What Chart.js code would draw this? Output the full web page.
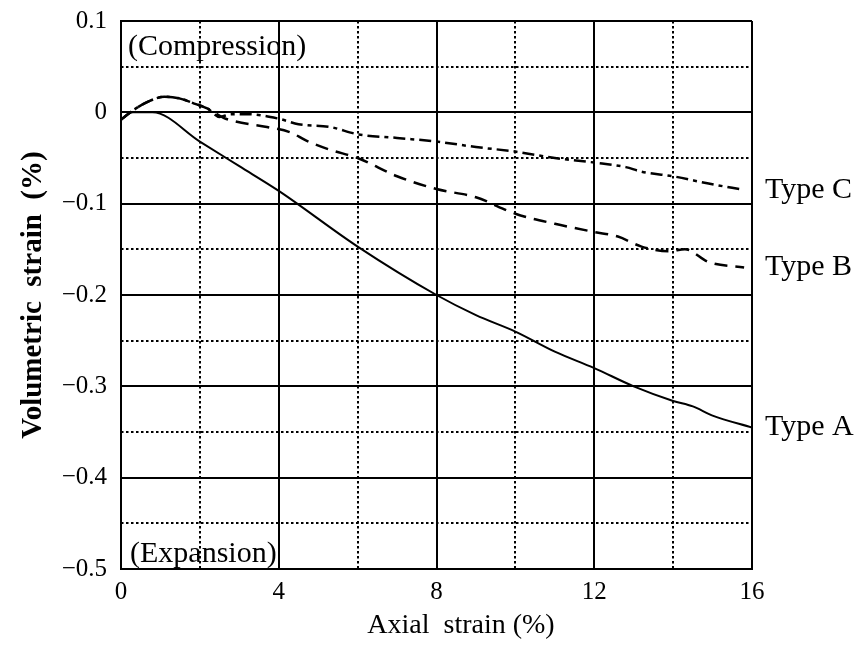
<!DOCTYPE html>
<html>
<head>
<meta charset="utf-8">
<script src="https://cdn.jsdelivr.net/npm/chart.js@4"></script>
<style>
  html, body { margin: 0; padding: 0; background: #fff; }
</style>
</head>
<body>
<canvas id="chart" width="864" height="645"></canvas>
<script>
var ctx = document.getElementById("chart");

// data (axial strain %, volumetric strain %)
var xA = [0, 0.3, 0.8, 2, 3, 4, 6, 8, 9, 10, 11, 12, 13, 14, 14.5, 15, 16];
var yA = [-0.008, 0, 0, -0.032, -0.059, -0.086, -0.147, -0.2, -0.222, -0.24, -0.262, -0.28, -0.3, -0.316, -0.322, -0.332, -0.345];

var xB = [0, 0.3, 0.7, 1.1, 1.5, 1.9, 2.2, 2.6, 2.9, 3.7, 4.3, 4.7, 5.3, 6, 7, 8, 9, 10, 11, 12, 12.6, 13.2, 13.9, 14.3, 14.9, 15.8];
var yB = [-0.008, 0.002, 0.012, 0.017, 0.015, 0.009, 0.004, -0.006, -0.01, -0.016, -0.022, -0.031, -0.041, -0.05, -0.07, -0.084, -0.093, -0.111, -0.122, -0.131, -0.136, -0.147, -0.152, -0.15, -0.164, -0.17];

var xC = [0, 0.3, 0.7, 1.1, 1.5, 1.9, 2.2, 2.5, 2.8, 3.2, 4, 4.5, 5.3, 6, 7, 8, 9, 10, 11, 12, 12.8, 13.2, 14, 14.9, 15.8];
var yC = [-0.008, 0.002, 0.012, 0.017, 0.015, 0.009, 0.004, -0.005, -0.002, -0.002, -0.007, -0.013, -0.016, -0.024, -0.028, -0.032, -0.038, -0.043, -0.05, -0.055, -0.06, -0.065, -0.07, -0.078, -0.085];

var seriesNames = ["Type A", "Type B", "Type C"];

// dotted minor grid positions
var minorX = [2, 6, 10, 14];
var minorY = [0.05, -0.05, -0.15, -0.25, -0.35, -0.45];

var serif = "'Liberation Serif', 'Times New Roman', serif";

function pts(xs, ys) {
    return xs.map(function (x, i) { return { x: x, y: ys[i] }; });
}

// dotted minor grid lines
var minorGrid = {
    id: 'minorGrid',
    beforeDatasetsDraw: function (chart) {
        var c = chart.ctx, a = chart.chartArea;
        var xs = chart.scales.x, ys = chart.scales.y;
        c.save();
        c.strokeStyle = '#000';
        c.lineWidth = 2;
        c.setLineDash([2.5, 2.5]);
        minorX.forEach(function (v) {
            var px = Math.round(xs.getPixelForValue(v));
            c.beginPath(); c.moveTo(px, a.top); c.lineTo(px, a.bottom); c.stroke();
        });
        minorY.forEach(function (v) {
            var py = Math.round(ys.getPixelForValue(v));
            c.beginPath(); c.moveTo(a.left, py); c.lineTo(a.right, py); c.stroke();
        });
        c.restore();
    }
};

// notes inside the plot and series names at the right
var notes = {
    id: 'notes',
    afterDatasetsDraw: function (chart) {
        var c = chart.ctx, a = chart.chartArea;
        c.save();
        c.fillStyle = '#000';
        c.font = "30px " + serif;
        c.textAlign = 'left';
        c.textBaseline = 'alphabetic';
        c.fillText('(Compression)', a.left + 7, a.top + 34);
        c.fillText('(Expansion)', a.left + 9, a.bottom - 7);
        c.textBaseline = 'middle';
        chart.data.datasets.forEach(function (ds) {
            var last = ds.data[ds.data.length - 1];
            var py = chart.scales.y.getPixelForValue(last.y);
            c.fillText(ds.label, a.right + 13, py);
        });
        c.restore();
    }
};

var chartGraph = new Chart(ctx, {
    type: 'scatter',
    data: {
        datasets: [{
            label: seriesNames[0],
            data: pts(xA, yA),
            borderColor: '#000',
            borderWidth: 2
        },
        {
            label: seriesNames[1],
            data: pts(xB, yB),
            borderColor: '#000',
            borderWidth: 2.5,
            borderDash: [13, 8]
        },
        {
            label: seriesNames[2],
            data: pts(xC, yC),
            borderColor: '#000',
            borderWidth: 2.5,
            borderDash: [12, 5, 4, 5]
        }]
    },
    options: {
        responsive: false,
        animation: false,
        showLine: true,
        elements: {
            point: { radius: 0 },
            line: { cubicInterpolationMode: 'monotone', fill: false }
        },
        layout: { padding: { top: 21, right: 112, left: 0, bottom: 0 } },
        plugins: { legend: { display: false }, tooltip: { enabled: false } },
        scales: {
            x: {
                type: 'linear',
                min: 0,
                max: 16,
                ticks: { stepSize: 4, color: '#000', padding: 8, font: { family: serif, size: 25 } },
                grid: { color: '#000', lineWidth: 2, drawTicks: false },
                border: { color: '#000', width: 2 },
                title: {
                    display: true,
                    text: '       Axial  strain (%)',
                    color: '#000',
                    font: { family: serif, size: 28 },
                    padding: { top: 0, bottom: 3 }
                },
                afterFit: function (s) {
                    s.height = 76;
                    s.paddingLeft = 0;
                    s.paddingRight = 0;
                }
            },
            y: {
                min: -0.5,
                max: 0.1,
                ticks: {
                    stepSize: 0.1,
                    color: '#000',
                    padding: 14,
                    font: { family: serif, size: 25 },
                    callback: function (v) {
                        var s = Math.abs(v) < 1e-9 ? '0' : v.toFixed(1);
                        return s.replace('-', '\u2212');
                    }
                },
                grid: { color: '#000', lineWidth: 2, drawTicks: false },
                border: { color: '#000', width: 2 },
                title: {
                    display: true,
                    text: 'Volumetric  strain  (%)',
                    color: '#000',
                    font: { family: serif, size: 29, weight: 'bold' },
                    padding: { top: 16, bottom: 0 }
                },
                afterFit: function (s) {
                    s.width = 121;
                    s.paddingTop = 0;
                    s.paddingBottom = 0;
                }
            }
        }
    },
    plugins: [minorGrid, notes]
});
</script>
</body>
</html>
